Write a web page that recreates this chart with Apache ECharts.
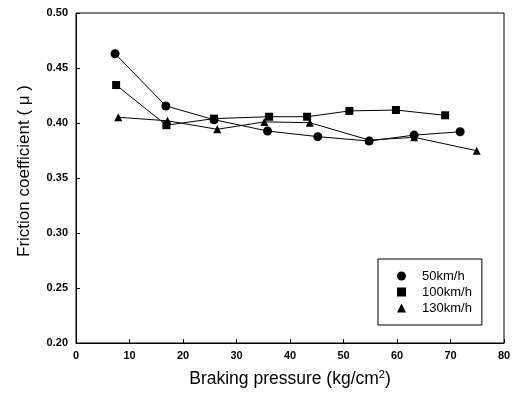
<!DOCTYPE html>
<html><head><meta charset="utf-8">
<script src="https://cdn.jsdelivr.net/npm/echarts@6/dist/echarts.min.js"></script>
<style>html,body{margin:0;padding:0;background:#fff}#c{width:519px;height:395px}</style>
</head><body><div id="c"></div>
<script>
const xLabels = ['0','10','20','30','40','50','60','70','80'];
const yLabels = ['0.20','0.25','0.30','0.35','0.40','0.45','0.50'];
const seriesNames = ['50km/h','100km/h','130km/h'];
const p50 = [7.3,16.8,25.8,35.8,45.2,54.8,63.2,71.8];
const f50 = [0.463,0.4155,0.403,0.3927,0.3876,0.3836,0.389,0.392];
const p100 = [7.5,16.9,25.8,36.1,43.2,51.1,59.8,69.0];
const f100 = [0.4345,0.398,0.404,0.4057,0.4057,0.411,0.4118,0.407];
const p130 = [7.9,17.1,26.4,35.2,43.7,54.8,63.2,74.9];
const f130 = [0.4052,0.402,0.3943,0.401,0.4003,0.3845,0.387,0.3748];

const font = 'Liberation Sans, Arial, sans-serif';
const chart = echarts.init(document.getElementById('c'));
function mk(name, xs, ys, sym, size){
  return {name, type:'line', data: xs.map((x,i)=>[x, ys[i]]), symbol: sym, symbolSize: size,
    itemStyle:{color:'#000'}, lineStyle:{color:'#000', width:1}, animation:false};
}
chart.setOption({
  animation:false,
  grid:{left:76, right:15, top:13, bottom:52, show:true, borderColor:'#000', borderWidth:1},
  xAxis:{type:'value', min:0, max:80, interval:10,
    axisLine:{lineStyle:{color:'#000'}}, axisTick:{inside:true, length:4, lineStyle:{color:'#000'}},
    splitLine:{show:false},
    axisLabel:{color:'#000', fontFamily:font, fontSize:11, fontWeight:'bold', margin:7, formatter:(v)=>xLabels[Math.round(v/10)]},
    name:'Braking pressure (kg/cm{sup|2})', nameLocation:'middle', nameGap:26,
    nameTextStyle:{color:'#000', fontFamily:font, fontSize:17.5,
      rich:{sup:{fontSize:11, verticalAlign:'top', padding:[0,0,9,0], color:'#000', fontFamily:font}}}},
  yAxis:{type:'value', min:0.20, max:0.50, interval:0.05,
    axisLine:{lineStyle:{color:'#000'}}, axisTick:{inside:true, length:4, lineStyle:{color:'#000'}},
    splitLine:{show:false},
    axisLabel:{color:'#000', fontFamily:font, fontSize:11, fontWeight:'bold', margin:8, formatter:(v)=>yLabels[Math.round((v-0.20)/0.05)]},
    name:'Friction coefficient ( \u03bc )', nameLocation:'middle', nameGap:43, nameRotate:90,
    nameTextStyle:{color:'#000', fontFamily:font, fontSize:17, padding:[0,0,0,14]}},
  legend:{orient:'vertical', left:378, top:259,
    padding:[10,10,10,19], itemGap:2, itemWidth:9, itemHeight:9,
    borderColor:'#000', borderWidth:1, backgroundColor:'#fff',
    textStyle:{color:'#000', fontFamily:font, fontSize:13, lineHeight:14, padding:[0,0,0,11]},
    data:[{name:seriesNames[0], icon:'circle'},{name:seriesNames[1], icon:'rect'},{name:seriesNames[2], icon:'triangle'}]},
  series:[mk(seriesNames[0], p50, f50, 'circle', 9), mk(seriesNames[1], p100, f100, 'rect', 8), mk(seriesNames[2], p130, f130, 'triangle', 8)]
});
</script></body></html>
